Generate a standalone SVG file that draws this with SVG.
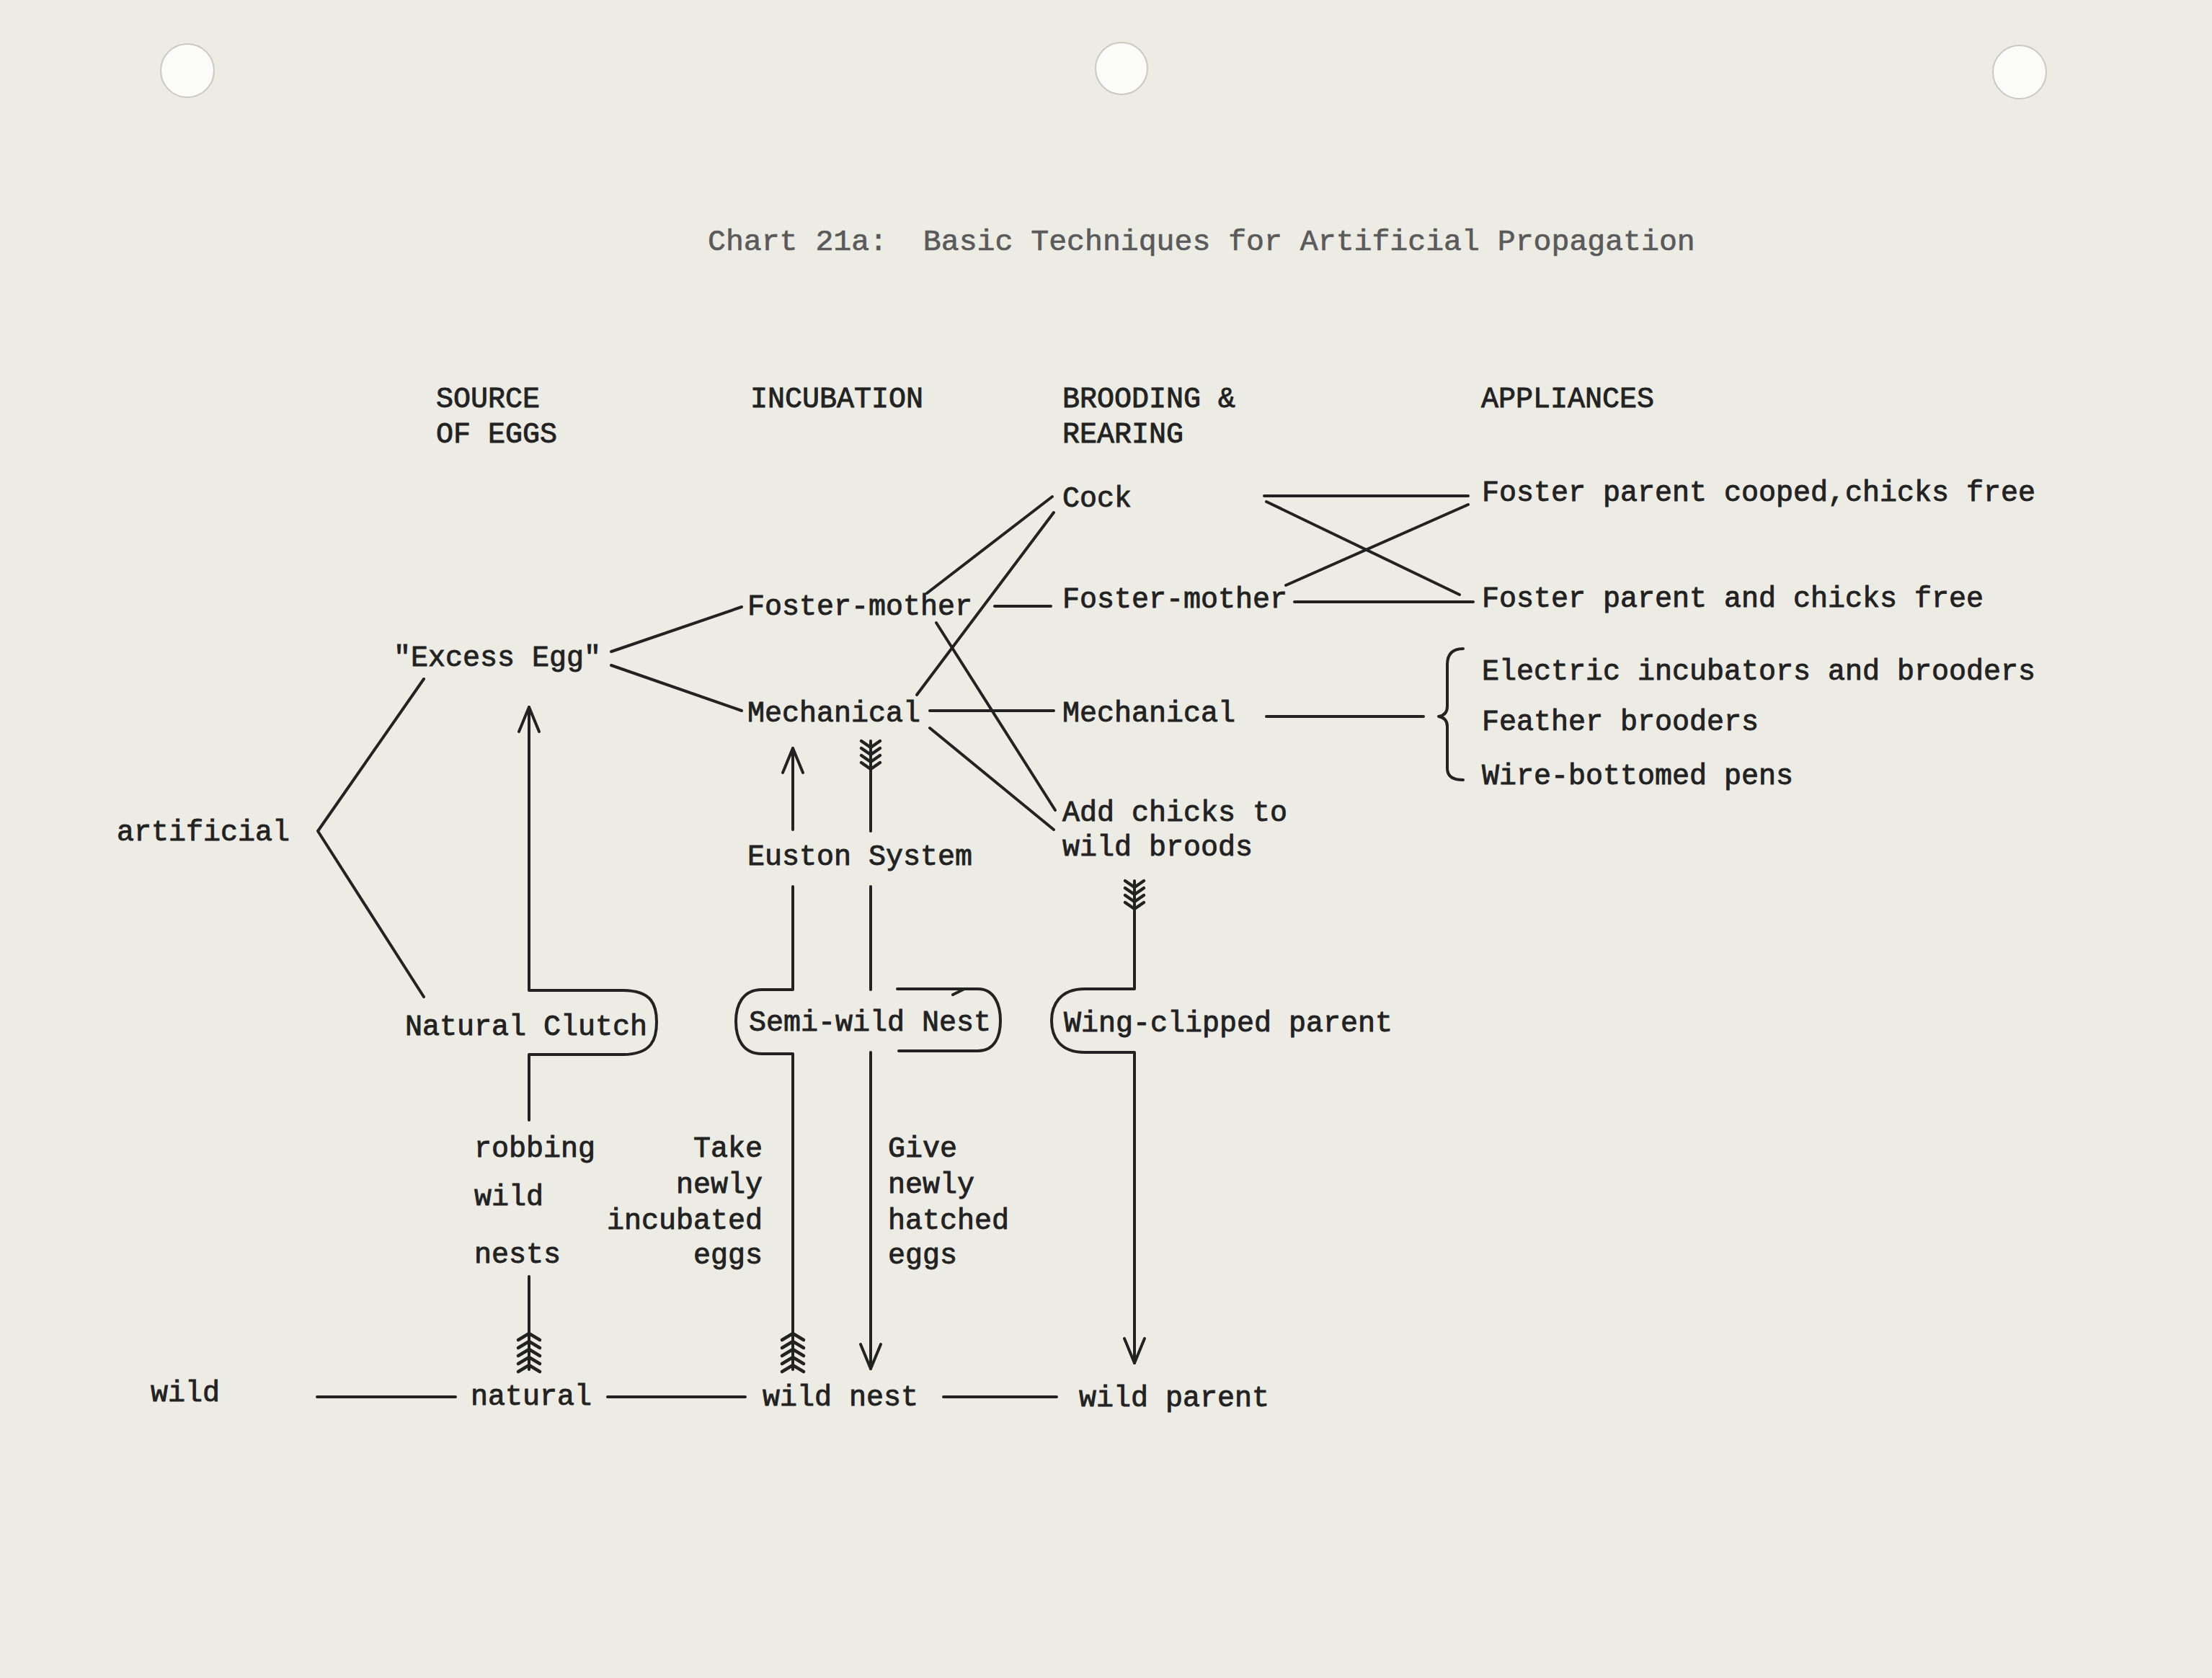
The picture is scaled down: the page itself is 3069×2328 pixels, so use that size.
<svg xmlns="http://www.w3.org/2000/svg" xmlns:xlink="http://www.w3.org/1999/xlink" width="3069" height="2328" viewBox="0 0 3069 2328">
<style>
.t{font-family:"Liberation Mono","Courier New",monospace;font-size:40px;fill:#222;stroke:#222;stroke-width:0.9px}
.ttl{font-family:"Liberation Mono","Courier New",monospace;font-size:41.5px;fill:#5a5a5a;stroke:#5a5a5a;stroke-width:0.7px}
.ln{stroke:#222;stroke-width:4;fill:none;stroke-linecap:round;stroke-linejoin:round}
.fl{stroke:#222;stroke-width:4.5;fill:none;stroke-linecap:round;stroke-linejoin:round}
.r{text-anchor:end}
</style>
<defs>
<marker id="arr" markerUnits="userSpaceOnUse" markerWidth="40" markerHeight="34" refX="36" refY="16" orient="auto" viewBox="0 0 40 32">
<path d="M2,2 L36,16 L2,30" fill="none" stroke="#222" stroke-width="4" stroke-linecap="round" stroke-linejoin="round"/>
</marker>
<g id="fUp" class="fl">
<path d="M-15,9 L0,0 L15,9 M-15,20 L0,11 L15,20 M-15,31 L0,22 L15,31 M-15,42 L0,33 L15,42 M-15,53 L0,44 L15,53"/>
</g>
<g id="fDown" class="fl">
<path d="M-13,0 L0,9 L13,0 M-13,10 L0,19 L13,10 M-13,20 L0,29 L13,20 M-13,30 L0,39 L13,30"/>
</g>
</defs>
<rect x="0" y="0" width="3069" height="2328" fill="#ecece5"/>
<g id="holes" fill="#fbfbf9" stroke="#c9c9c2" stroke-width="2">
<circle cx="260" cy="98" r="37"/>
<circle cx="1556" cy="95" r="36"/>
<circle cx="2802" cy="100" r="37"/>
</g>
<g id="title"><text class="ttl" x="982" y="347" xml:space="preserve">Chart 21a:  Basic Techniques for Artificial Propagation</text></g>
<g id="headers">
<text class="t" x="605" y="565">SOURCE</text>
<text class="t" x="605" y="614">OF EGGS</text>
<text class="t" x="1041" y="565">INCUBATION</text>
<text class="t" x="1474" y="565">BROODING &amp;</text>
<text class="t" x="1474" y="614">REARING</text>
<text class="t" x="2055" y="565">APPLIANCES</text>
</g>
<g id="connectors">
<path class="ln" d="M848,904 L1029,842"/>
<path class="ln" d="M848,923 L1029,986"/>
<path class="ln" d="M1286,823 L1460,689"/>
<path class="ln" d="M1272,964 L1462,711"/>
<path class="ln" d="M1299,864 L1464,1124"/>
<path class="ln" d="M1290,1010 L1462,1151"/>
<path class="ln" d="M1380,841 L1458,841"/>
<path class="ln" d="M1290,986 L1462,986"/>
<path class="ln" d="M1757,994 L1975,994"/>
<path class="ln" d="M1754,688 L2037,688"/>
<path class="ln" d="M1757,696 L2025,825"/>
<path class="ln" d="M1784,812 L2037,700"/>
<path class="ln" d="M1796,835 L2044,835"/>
<path class="ln" d="M2030,900 Q2008,900 2008,922 L2008,980 Q2008,992 1996,994 Q2008,996 2008,1008 L2008,1066 Q2008,1082 2030,1082"/>
<path class="ln" d="M588,942 L441,1153 L588,1383"/>
<path class="ln" d="M440,1938 L632,1938"/>
<path class="ln" d="M843,1938 L1034,1938"/>
<path class="ln" d="M1309,1938 L1466,1938"/>
<!-- natural -> Natural Clutch -> Excess Egg -->
<path class="ln" d="M734,1771 L734,1900"/>
<use xlink:href="#fUp" x="734" y="1850"/>
<path class="ln" marker-end="url(#arr)" d="M734,1554 L734,1463 L864,1463 C905,1463 911,1441 911,1418 C911,1395 905,1374 864,1374 L734,1374 L734,981"/>
<!-- wild nest -> Semi-wild Nest -> Mechanical -->
<path class="ln" d="M1100,1900 L1100,1462 L1057,1462 C1030,1462 1021,1440 1021,1417 C1021,1395 1030,1373 1057,1373 L1100,1373 L1100,1230"/>
<use xlink:href="#fUp" x="1100" y="1850"/>
<path class="ln" marker-end="url(#arr)" d="M1100,1151 L1100,1038"/>
<!-- Mechanical -> Semi-wild Nest -> wild nest -->
<use xlink:href="#fDown" x="1208" y="1028"/>
<path class="ln" d="M1208,1028 L1208,1153"/>
<path class="ln" d="M1208,1230 L1208,1373"/>
<path class="ln" d="M1245,1372 L1357,1372 C1380,1372 1388,1395 1388,1416 C1388,1438 1380,1458 1357,1458 L1247,1458"/>
<path class="ln" d="M1322,1380 L1338,1372"/>
<path class="ln" marker-end="url(#arr)" d="M1208,1460 L1208,1899"/>
<!-- Add chicks -> Wing-clipped parent -> wild parent -->
<use xlink:href="#fDown" x="1574" y="1222"/>
<path class="ln" marker-end="url(#arr)" d="M1574,1222 L1574,1372 L1505,1372 C1470,1372 1459,1395 1459,1416 C1459,1438 1470,1460 1505,1460 L1574,1460 L1574,1891"/>
</g>
<g id="n-excess"><text class="t" x="546" y="924">"Excess Egg"</text></g>
<g id="n-artificial"><text class="t" x="162" y="1166">artificial</text></g>
<g id="n-foster-inc"><text class="t" x="1037" y="853">Foster-mother</text></g>
<g id="n-mech-inc"><text class="t" x="1037" y="1001">Mechanical</text></g>
<g id="n-euston"><text class="t" x="1037" y="1200">Euston System</text></g>
<g id="n-cock"><text class="t" x="1474" y="703">Cock</text></g>
<g id="n-foster-brood"><text class="t" x="1474" y="843">Foster-mother</text></g>
<g id="n-mech-brood"><text class="t" x="1474" y="1001">Mechanical</text></g>
<g id="n-addchicks"><text class="t" x="1474" y="1139">Add chicks to</text><text class="t" x="1474" y="1187">wild broods</text></g>
<g id="n-cooped"><text class="t" x="2056" y="695">Foster parent cooped,chicks free</text></g>
<g id="n-free"><text class="t" x="2056" y="842">Foster parent and chicks free</text></g>
<g id="n-electric"><text class="t" x="2056" y="943">Electric incubators and brooders</text></g>
<g id="n-feather"><text class="t" x="2056" y="1013">Feather brooders</text></g>
<g id="n-wire"><text class="t" x="2056" y="1088">Wire-bottomed pens</text></g>
<g id="n-clutch"><text class="t" x="562" y="1436">Natural Clutch</text></g>
<g id="n-semiwild"><text class="t" x="1039" y="1430">Semi-wild Nest</text></g>
<g id="n-wingclipped"><text class="t" x="1476" y="1431">Wing-clipped parent</text></g>
<g id="lbl-robbing"><text class="t" x="658" y="1605">robbing</text><text class="t" x="658" y="1672">wild</text><text class="t" x="658" y="1752">nests</text></g>
<g id="lbl-take"><text class="t r" x="1058" y="1605">Take</text><text class="t r" x="1058" y="1655">newly</text><text class="t r" x="1058" y="1705">incubated</text><text class="t r" x="1058" y="1753">eggs</text></g>
<g id="lbl-give"><text class="t" x="1232" y="1605">Give</text><text class="t" x="1232" y="1655">newly</text><text class="t" x="1232" y="1705">hatched</text><text class="t" x="1232" y="1753">eggs</text></g>
<g id="n-wild"><text class="t" x="209" y="1944">wild</text></g>
<g id="n-natural"><text class="t" x="653" y="1949">natural</text></g>
<g id="n-wildnest"><text class="t" x="1058" y="1950">wild nest</text></g>
<g id="n-wildparent"><text class="t" x="1497" y="1951">wild parent</text></g>
</svg>
